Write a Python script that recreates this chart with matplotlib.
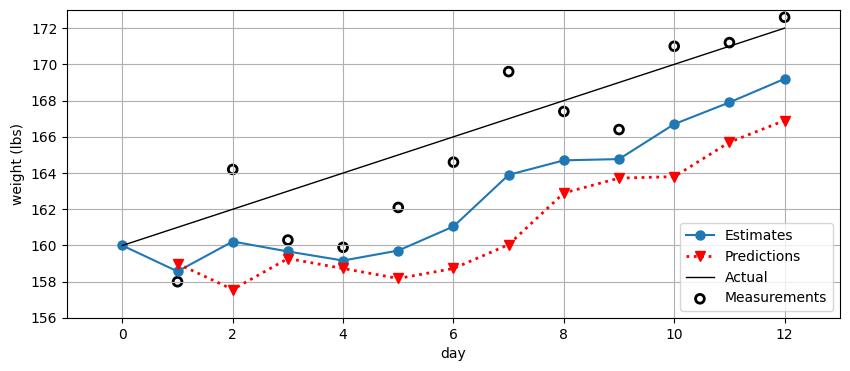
import numpy as np
import matplotlib.pyplot as plt

days = np.arange(13)
estimates = [160.0, 158.57, 160.22, 159.67, 159.17, 159.72, 161.05,
             163.9, 164.7, 164.77, 166.7, 167.9, 169.2]
pred_days = np.arange(1, 13)
predictions = [159.0, 157.57, 159.28, 158.73, 158.18, 158.73, 160.05,
               162.9, 163.72, 163.8, 165.7, 166.9]
actual = [160.0 + d for d in days]
measurements = [158.0, 164.2, 160.3, 159.9, 162.1, 164.6, 169.6,
                167.4, 166.4, 171.0, 171.2, 172.6]

fig, ax = plt.subplots(figsize=(8.5, 3.71), dpi=100)
fig.subplots_adjust(left=0.079, right=0.988, top=0.973, bottom=0.143)

ax.plot(days, estimates, '-o', color='C0', markersize=6.5, label='Estimates')
ax.plot(pred_days, predictions, ':v', color='r', lw=2, markersize=7,
        label='Predictions')
ax.plot(days, actual, color='k', lw=1, label='Actual')
ax.scatter(pred_days, measurements, s=40, facecolor='none', edgecolor='k',
           lw=2, label='Measurements')

ax.set_xlim(-1, 13)
ax.set_ylim(156, 173)
ax.set_xlabel('day')
ax.set_ylabel('weight (lbs)')
ax.grid(True)
ax.legend(loc='lower right')

fig.savefig('out.png')
